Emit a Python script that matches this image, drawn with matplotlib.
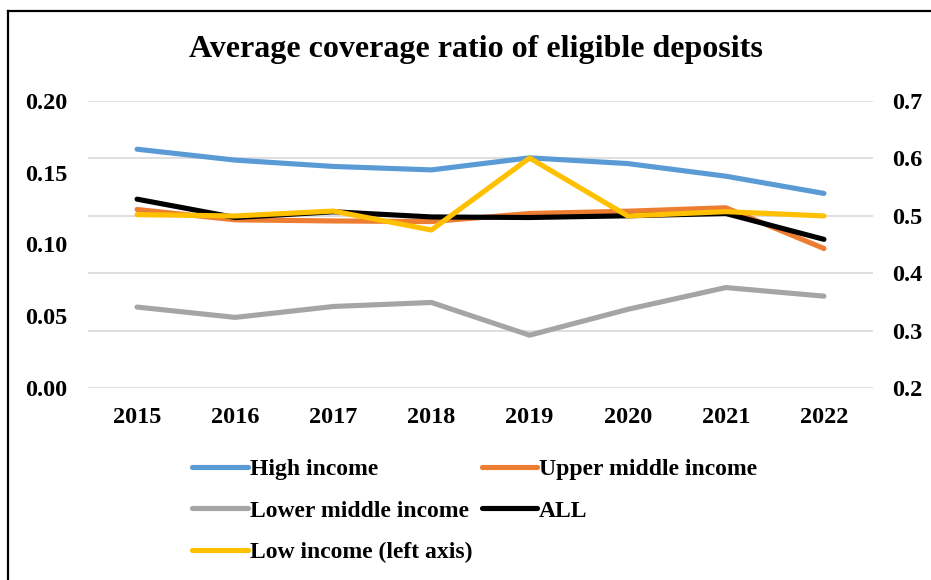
import matplotlib.pyplot as plt
from matplotlib.lines import Line2D

# Data
years = ['2015', '2016', '2017', '2018', '2019', '2020', '2021', '2022']
high_income = [0.616, 0.597, 0.586, 0.580, 0.601, 0.591, 0.569, 0.539]
upper_middle = [0.511, 0.493, 0.491, 0.490, 0.504, 0.508, 0.514, 0.443]
lower_middle = [0.341, 0.323, 0.342, 0.349, 0.292, 0.337, 0.375, 0.360]
all_countries = [0.529, 0.497, 0.507, 0.498, 0.497, 0.500, 0.504, 0.459]
low_income = [0.1208, 0.1199, 0.1233, 0.1101, 0.1603, 0.1199, 0.1229, 0.1199]

left_ticks = [0.00, 0.05, 0.10, 0.15, 0.20]
right_ticks = [0.2, 0.3, 0.4, 0.5, 0.6, 0.7]

plt.rcParams['font.family'] = ['Liberation Serif', 'DejaVu Serif']
plt.rcParams['font.weight'] = 'bold'

fig = plt.figure(figsize=(9.31, 5.80), dpi=100)
ax = fig.add_axes([88 / 931, 1 - 388 / 580, 785 / 931, 287 / 580])
ax2 = ax.twinx()

x = range(len(years))
lw = 3.7
l1, = ax.plot(x, high_income, color='#5B9BD5', lw=lw, solid_capstyle='round', label='High income')
l2, = ax.plot(x, upper_middle, color='#ED7D31', lw=lw, solid_capstyle='round', label='Upper middle income')
l3, = ax.plot(x, lower_middle, color='#A5A5A5', lw=lw, solid_capstyle='round', label='Lower middle income')
l4, = ax.plot(x, all_countries, color='#000000', lw=lw, solid_capstyle='round', label='ALL')
l5, = ax2.plot(x, low_income, color='#FFC000', lw=lw, solid_capstyle='round', label='Low income (left axis)')

# main series on the right-hand scale, low income on the left-hand scale
ax.set_ylim(0.2, 0.7)
ax.set_yticks(right_ticks)
ax.set_yticklabels([f'{t:.1f}' for t in right_ticks])
ax.yaxis.tick_right()
ax2.set_ylim(0.0, 0.2)
ax2.set_yticks(left_ticks)
ax2.set_yticklabels([f'{t:.2f}' for t in left_ticks])
ax2.yaxis.tick_left()

ax.set_xlim(-0.5, len(years) - 0.5)
ax.set_xticks(list(x))
ax.set_xticklabels(years)

ax.grid(axis='y', color='#D9D9D9', lw=1.2)
ax.set_axisbelow(True)
for a in (ax, ax2):
    for s in a.spines.values():
        s.set_visible(False)
    a.tick_params(length=0, labelsize=17.5)
ax.tick_params(axis='y', pad=14)
ax.tick_params(axis='x', pad=14)
ax2.tick_params(axis='y', pad=15)

fig.text(0.511, 1 - 50 / 580, 'Average coverage ratio of eligible deposits',
         ha='center', va='center', fontsize=23, fontweight='bold')

handles = [l1, l3, l5, l2, l4]
fig.legend(handles=handles, labels=[h.get_label() for h in handles],
           ncol=2, loc='upper left', bbox_to_anchor=(183 / 931, 1 - 449 / 580),
           frameon=False, fontsize=17, handlelength=2.35, handletextpad=0.08,
           columnspacing=0.4, labelspacing=0.85, borderaxespad=0)

# outer frame (top and left edges visible)
fig.add_artist(Line2D([8 / 931, 1], [1 - 11 / 580, 1 - 11 / 580], color='black', lw=1.6))
fig.add_artist(Line2D([8 / 931, 8 / 931], [0, 1 - 11 / 580], color='black', lw=1.6))

fig.savefig('out.png', dpi=100)
